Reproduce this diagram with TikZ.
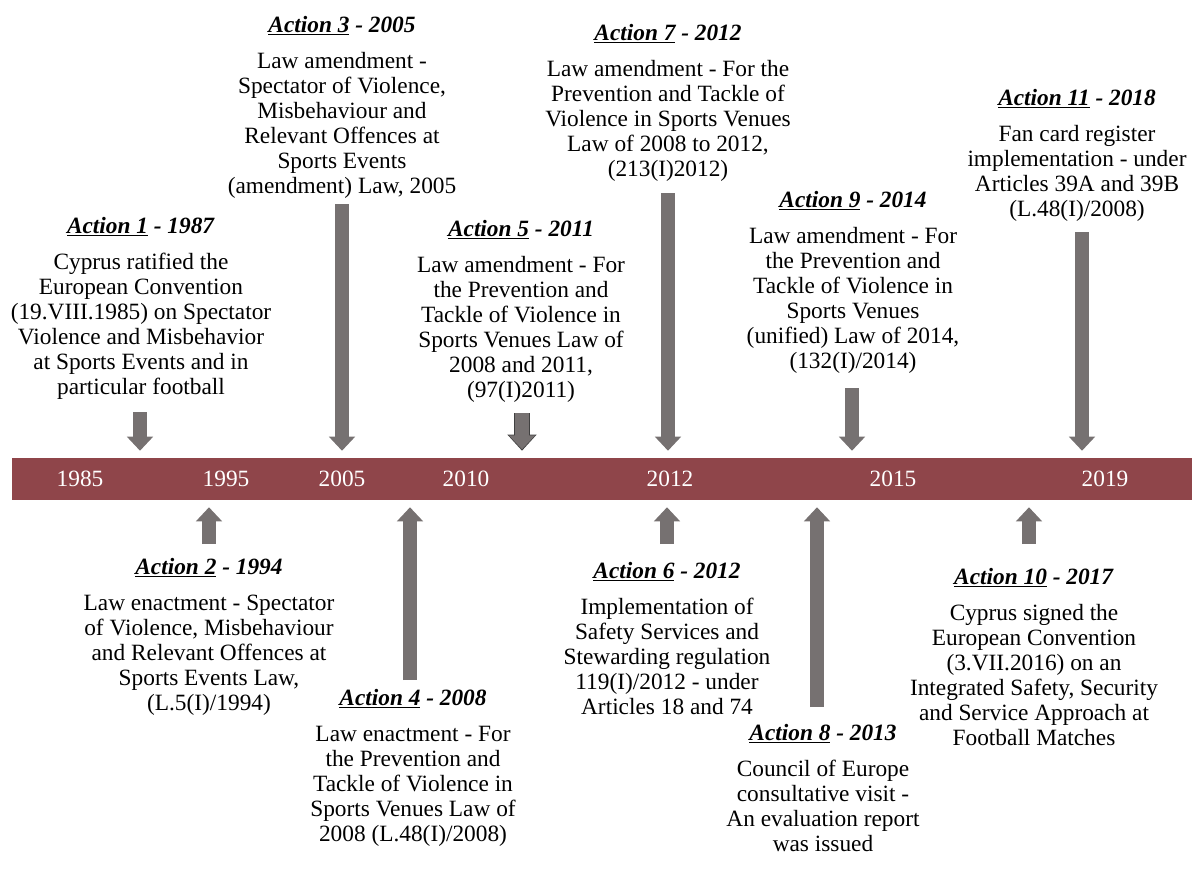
\documentclass[tikz,border=0pt]{standalone}
\usepackage{fontspec}
\setmainfont{Liberation Serif}
\usetikzlibrary{arrows.meta}

\definecolor{barred}{RGB}{143,69,74}
\definecolor{arrowgray}{RGB}{118,113,113}

\newcommand{\acttitle}[2]{\textbf{\textit{\underline{Action #1} - #2}}\\[8pt]}

\tikzset{
  acttext/.style={align=center, anchor=north, inner sep=0pt, font=\fontsize{17.5}{18.75}\selectfont},
  yeartext/.style={text=white, inner sep=0pt, font=\fontsize{17.5}{18}\selectfont},
  blockarrow/.style={draw=arrowgray, line width=10.5pt, shorten >=5.25pt,
    -{Triangle[width=19pt,length=10.5pt]}}
}

\begin{document}
\begin{tikzpicture}[x=0.75pt,y=-0.75pt]
  \useasboundingbox (0,0) rectangle (1198,872);

  % the time line
  \node[fill=barred, minimum width=885pt, minimum height=31.5pt, inner sep=0pt]
    (bar) at (602,479) {};
  \node[yeartext] (y1985) at (80,479) {1985};
  \node[yeartext] (y1995) at (226,479) {1995};
  \node[yeartext] (y2005) at (342,479) {2005};
  \node[yeartext] (y2010) at (466,479) {2010};
  \node[yeartext] (y2012) at (670,479) {2012};
  \node[yeartext] (y2015) at (893,479) {2015};
  \node[yeartext] (y2019) at (1105,479) {2019};

  % actions above
  \node[acttext] (a3) at (342,16) {\acttitle{3}{2005}
    Law amendment -\\ Spectator of Violence,\\ Misbehaviour and\\
    Relevant Offences at\\ Sports Events\\ (amendment) Law, 2005};
  \node[acttext] (a7) at (668,24) {\acttitle{7}{2012}
    Law amendment - For the\\ Prevention and Tackle of\\
    Violence in Sports Venues\\ Law of 2008 to 2012,\\ (213(I)2012)};
  \node[acttext] (a11) at (1077,89) {\acttitle{11}{2018}
    Fan card register\\ implementation - under\\
    Articles 39A and 39B\\ (L.48(I)/2008)};
  \node[acttext] (a1) at (141,217) {\acttitle{1}{1987}
    Cyprus ratified the\\ European Convention\\
    (19.VIII.1985) on Spectator\\ Violence and Misbehavior\\
    at Sports Events and in\\ particular football};
  \node[acttext] (a5) at (521,220) {\acttitle{5}{2011}
    Law amendment - For\\ the Prevention and\\ Tackle of Violence in\\
    Sports Venues Law of\\ 2008 and 2011,\\ (97(I)2011)};
  \node[acttext] (a9) at (853,191) {\acttitle{9}{2014}
    Law amendment - For\\ the Prevention and\\ Tackle of Violence in\\
    Sports Venues\\ (unified) Law of 2014,\\ (132(I)/2014)};

  % actions below
  \node[acttext] (a2) at (209,558) {\acttitle{2}{1994}
    Law enactment - Spectator\\ of Violence, Misbehaviour\\
    and Relevant Offences at\\ Sports Events Law,\\ (L.5(I)/1994)};
  \node[acttext] (a4) at (413,689) {\acttitle{4}{2008}
    Law enactment - For\\ the Prevention and\\ Tackle of Violence in\\
    Sports Venues Law of\\ 2008 (L.48(I)/2008)};
  \node[acttext] (a6) at (667,562) {\acttitle{6}{2012}
    Implementation of\\ Safety Services and\\ Stewarding regulation\\
    119(I)/2012 - under\\ Articles 18 and 74};
  \node[acttext] (a8) at (823,724) {\acttitle{8}{2013}
    Council of Europe\\ consultative visit -\\
    An evaluation report\\ was issued};
  \node[acttext] (a10) at (1034,568) {\acttitle{10}{2017}
    Cyprus signed the\\ European Convention\\ (3.VII.2016) on an\\
    Integrated Safety, Security\\ and Service Approach at\\ Football Matches};

  % arrow ends
  \coordinate (s1) at (140,412);
  \coordinate (s3) at (342,204);
  \coordinate (s5) at (522,413);
  \coordinate (s7) at (668,193);
  \coordinate (s9) at (852,388);
  \coordinate (s11) at (1082,232);
  \coordinate (s2) at (209,544);
  \coordinate (s4) at (410,680);
  \coordinate (s6) at (667,544);
  \coordinate (s8) at (817,707);
  \coordinate (s10) at (1029,544);

  \draw[blockarrow] (s1) -- (s1 |- bar.north);
  \draw[blockarrow] (s3) -- (s3 |- bar.north);
  \draw[blockarrow, draw=black!75, line width=12pt,
    -{Triangle[width=21pt,length=12pt]}] (s5) -- (s5 |- bar.north);
  \draw[blockarrow, shorten >=6.3pt] (s5) -- (s5 |- bar.north);
  \draw[blockarrow] (s7) -- (s7 |- bar.north);
  \draw[blockarrow] (s9) -- (s9 |- bar.north);
  \draw[blockarrow] (s11) -- (s11 |- bar.north);

  \draw[blockarrow] (s2) -- (s2 |- bar.south);
  \draw[blockarrow] (s4) -- (s4 |- bar.south);
  \draw[blockarrow] (s6) -- (s6 |- bar.south);
  \draw[blockarrow] (s8) -- (s8 |- bar.south);
  \draw[blockarrow] (s10) -- (s10 |- bar.south);
\end{tikzpicture}
\end{document}
